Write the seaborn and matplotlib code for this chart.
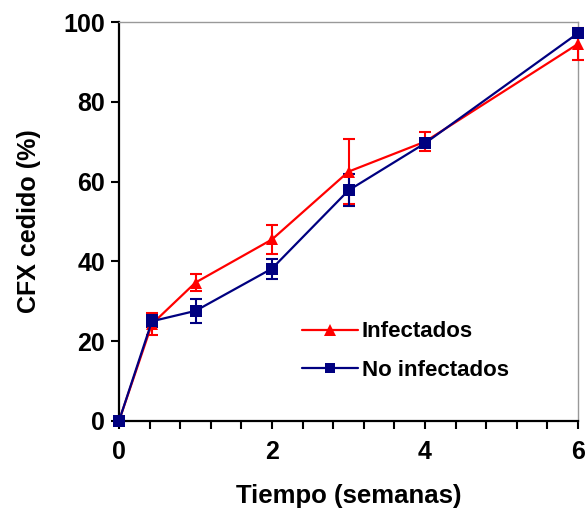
import matplotlib
matplotlib.use("Agg")
import matplotlib.pyplot as plt
import seaborn as sns
import pandas as pd
import numpy as np
from matplotlib.lines import Line2D

semanas = [0, 0.43, 1, 2, 3, 4, 6]
infectados = [0, 24.3, 34.7, 45.5, 62.5, 70.0, 94.5]
infectados_err = [0, 2.8, 2.2, 3.6, 8.1, 2.4, 4.0]
no_infectados = [0, 25.0, 27.6, 38.2, 57.8, 69.6, 97.2]
no_infectados_err = [0, 1.5, 3.0, 2.5, 4.0, 1.0, 1.0]
series_names = ["Infectados", "No infectados"]
x_ticks = [0, 2, 4, 6]
y_ticks = [0, 20, 40, 60, 80, 100]

sns.set_style("ticks")
plt.rcParams['font.family'] = ['Liberation Sans', 'DejaVu Sans']
plt.rcParams['font.weight'] = 'bold'
plt.rcParams['text.color'] = 'black'
plt.rcParams['axes.labelcolor'] = 'black'
plt.rcParams['xtick.color'] = 'black'
plt.rcParams['ytick.color'] = 'black'

df = pd.DataFrame({
    "Tiempo": semanas * 2,
    "CFX": infectados + no_infectados,
    "err": infectados_err + no_infectados_err,
    "Grupo": [series_names[0]] * len(semanas) + [series_names[1]] * len(semanas),
})

fig = plt.figure(figsize=(5.86, 5.15), dpi=100)
ax = fig.add_axes([119/586, 1 - 421/515, (578 - 119)/586, (421 - 22)/515])

colors = {"Infectados": "#FF0000", "No infectados": "#000080"}
markers = {"Infectados": "^", "No infectados": "s"}

for name in series_names:
    sub = df[df["Grupo"] == name]
    ax.errorbar(sub["Tiempo"], sub["CFX"], yerr=sub["err"], fmt="none",
                ecolor=colors[name], elinewidth=1.5, capsize=4.5, capthick=1.5,
                clip_on=False, zorder=3)

sns.lineplot(data=df, x="Tiempo", y="CFX", hue="Grupo", style="Grupo",
             palette=colors, markers=markers, dashes=False, ax=ax,
             linewidth=1.6, markersize=9, markeredgewidth=0,
             clip_on=False, zorder=4, legend=False)

handles = [Line2D([], [], color=colors[n], marker=markers[n],
                  markersize=9 if n == "Infectados" else 6.5,
                  linewidth=1.6, markeredgewidth=0) for n in series_names]
leg = ax.legend(handles, series_names, loc="upper left", bbox_to_anchor=(0.355, 0.30),
                frameon=False, prop={"size": 16, "weight": "bold"},
                handlelength=2.5, handletextpad=0.2, labelspacing=0.8)

ax.set_xlim(0, 6)
ax.set_ylim(0, 100)
ax.set_xticks(x_ticks)
ax.set_xticks(np.arange(0, 6.01, 0.4), minor=True)
ax.set_yticks(y_ticks)
ax.tick_params(axis="both", which="major", labelsize=18, width=1.5, length=6, color="black",
               labelcolor="black", direction="out")
ax.tick_params(axis="x", which="major", pad=8)
ax.tick_params(axis="x", which="minor", width=1.5, length=6, color="black", direction="out")
ax.tick_params(axis="y", which="major", pad=4)
for lbl in ax.get_xticklabels() + ax.get_yticklabels():
    lbl.set_fontweight("bold")

ax.set_xlabel("Tiempo (semanas)", fontsize=18.5, fontweight="bold", labelpad=14, color="black")
ax.set_ylabel("CFX cedido (%)", fontsize=18, fontweight="bold", labelpad=16, color="black")

for s in ["left", "bottom"]:
    ax.spines[s].set_linewidth(1.6)
    ax.spines[s].set_color("black")
for s in ["top", "right"]:
    ax.spines[s].set_visible(True)
    ax.spines[s].set_linewidth(1.0)
    ax.spines[s].set_color("#999999")

fig.savefig("out.png", dpi=100)
